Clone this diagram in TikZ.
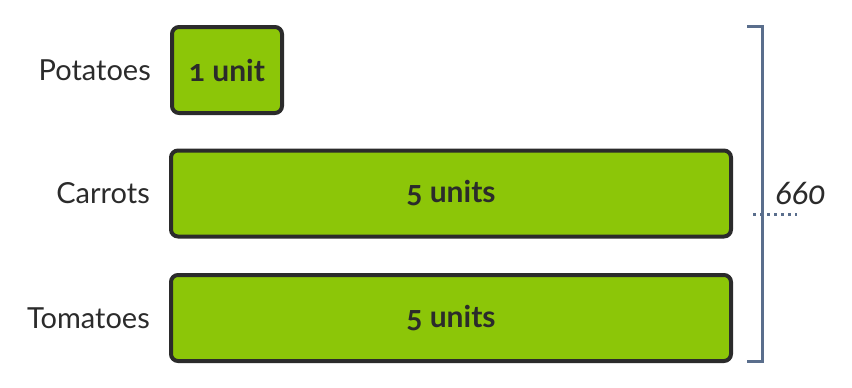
\documentclass[tikz,border=0pt]{standalone}
\usepackage{fontspec}
\setmainfont{Lato}[Numbers=OldStyle]
\usepackage{xcolor}
\usepackage{tikz}
\usetikzlibrary{positioning}
\definecolor{veggreen}{HTML}{8CC608}
\definecolor{boxline}{HTML}{2B2B2B}
\definecolor{bracketblue}{HTML}{5A6E8C}
\definecolor{labelgray}{HTML}{2B2B2B}

\begin{document}
\begin{tikzpicture}[
    x=1pt, y=-1pt,
    node distance=19pt,
    unitbox/.style={rectangle, rounded corners=7pt, draw=boxline, line width=4pt, fill=veggreen,
        minimum height=86pt, text=labelgray, font=\fontsize{30}{36}\selectfont\bfseries},
    veglabel/.style={text=labelgray, font=\fontsize{29}{34}\selectfont, inner sep=0pt},
    bracket/.style={bracketblue, line width=3pt},
]
    \useasboundingbox (0,0) rectangle (852,388);
    % bars
    \node[unitbox, minimum width=110pt] (potatoes) at (227,70) {1 unit};
    \node[unitbox, minimum width=560pt] (carrots) at (451,193.5) {5 units};
    \node[unitbox, minimum width=560pt] (tomatoes) at (451,318) {5 units};
    % names
    \node[veglabel, left=19pt of potatoes] (potname) {Potatoes};
    \node[veglabel, left=19pt of carrots] (carname) {Carrots};
    \node[veglabel, left=19pt of tomatoes] (tomname) {Tomatoes};
    % total
    \coordinate (btop) at (762,26);
    \coordinate (bbot) at (762,361);
    \draw[bracket] ([xshift=-15pt]btop) -- (btop) -- (bbot) -- ([xshift=-15pt]bbot);
    \coordinate (dleft) at (753,214);
    \coordinate (dright) at (797,214);
    \draw[bracket, dash pattern=on 3pt off 4pt] (dleft) -- (dright);
    \node[veglabel, font=\fontsize{33}{40}\selectfont\itshape, anchor=south west] (total) at (775,205) {660};
\end{tikzpicture}
\end{document}
